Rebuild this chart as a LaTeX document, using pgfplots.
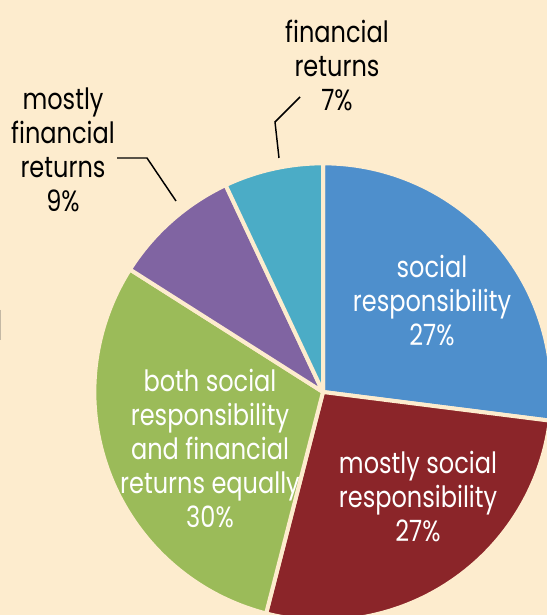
\documentclass[border=0pt]{standalone}
\usepackage{pgfplots}
\pgfplotsset{compat=1.18}
\usepackage{fontspec}
\setmainfont{Poppins}[FakeStretch=0.82]
\definecolor{cream}{HTML}{FDECCE}
\definecolor{cblue}{HTML}{4E8FCC}
\definecolor{cred}{HTML}{8B2529}
\definecolor{cgreen}{HTML}{9BBB59}
\definecolor{cpurple}{HTML}{8064A2}
\definecolor{cteal}{HTML}{4BACC6}
\newcommand\cx{323}
\newcommand\cy{223}
\newcommand\R{171.5pt}
% #1 cumulative start (percent), #2 share (percent), #3 colour
\newcommand\slice[3]{%
  \filldraw[#3, draw=cream, line width=3pt, line join=round]
    (axis cs:\cx,\cy) -- ([shift={({90-(#1)*3.6}:\R)}]axis cs:\cx,\cy)
    arc[start angle={90-(#1)*3.6}, end angle={90-(#1+#2)*3.6}, radius=\R] -- cycle;}
\newcommand\lbl{\fontsize{22}{25.5}\selectfont}
\begin{document}
\begin{tikzpicture}
\begin{axis}[
  x=0.75pt, y=0.75pt,
  xmin=0, xmax=547, ymin=0, ymax=615,
  axis lines=none, ticks=none,
  clip=true,
]
\fill[cream] (axis cs:0,0) rectangle (axis cs:547,615);
\draw[color={rgb,255:red,196;green,184;blue,164}, line width=1.2pt] (axis cs:0.6,305) -- (axis cs:0.6,275);
% shares: social responsibility 27, mostly social 27, both 30, mostly financial 9, financial 7
\slice{0}{27}{cblue}
\slice{27}{27}{cred}
\slice{54}{30}{cgreen}
\slice{84}{9}{cpurple}
\slice{93}{7}{cteal}
% leader lines
\draw[black, line width=1.1pt] (axis cs:300,518) -- (axis cs:275,493) -- (axis cs:279,457);
\draw[black, line width=1.1pt] (axis cs:117,457) -- (axis cs:147,457) -- (axis cs:176,414);
% labels
\node[align=center, text=white, font=\lbl] at (axis cs:432,314) {social\\responsibility\\27\%};
\node[align=center, text=white, font=\lbl] at (axis cs:418,118) {mostly social\\responsibility\\27\%};
\node[align=center, text=white, font=\lbl] at (axis cs:210,166) {both social\\responsibility\\and financial\\returns equally\\30\%};
\node[align=center, text=black, font=\lbl] at (axis cs:63,465) {mostly\\financial\\returns\\9\%};
\node[align=center, text=black, font=\lbl] at (axis cs:337,550) {financial\\returns\\7\%};
\end{axis}
\pgfresetboundingbox
\useasboundingbox (current axis.south west) rectangle (current axis.north east);
\end{tikzpicture}
\end{document}
